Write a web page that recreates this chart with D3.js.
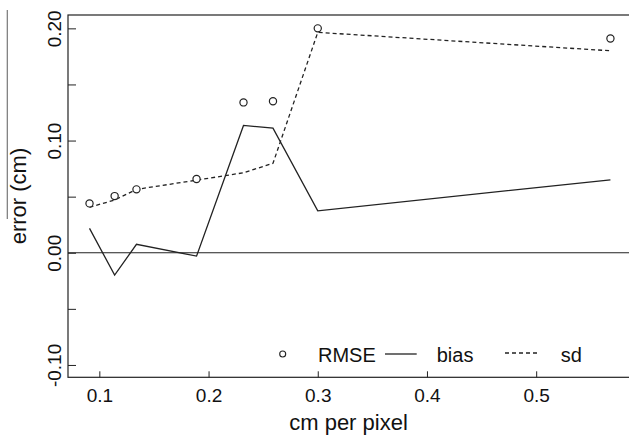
<!DOCTYPE html>
<html>
<head>
<meta charset="utf-8">
<script src="https://d3js.org/d3.v7.min.js"></script>
<style>
  body { margin: 0; background: #fff; }
  svg { display: block; }
  text { font-family: "Liberation Sans", Arial, sans-serif; fill: #111; }
</style>
</head>
<body>
<div class="chart"></div>
<script>
var svgWidth = 629;
var svgHeight = 436;

var margin = {
  top: 15,
  right: 0,
  bottom: 58.7,
  left: 68
};

var width = svgWidth - margin.left - margin.right;
var height = svgHeight - margin.top - margin.bottom;

// data
var cmPerPixel = [0.091, 0.114, 0.134, 0.189, 0.232, 0.259, 0.300, 0.568];
var rmse = [0.044, 0.0505, 0.0565, 0.0657, 0.134, 0.135, 0.200, 0.191];
var bias = [0.0217, -0.0199, 0.0075, -0.003, 0.1135, 0.111, 0.0374, 0.065];
var sd = [0.0405, 0.047, 0.0565, 0.0647, 0.0713, 0.0797, 0.1964, 0.180];

var xTicks = [0.1, 0.2, 0.3, 0.4, 0.5];
var yTicks = [-0.10, -0.05, 0.00, 0.05, 0.10, 0.15, 0.20];
var yLabels = [-0.10, 0.00, 0.10, 0.20];
var legendLabels = ["RMSE", "bias", "sd"];

var ink = "#222";

var svg = d3
  .select(".chart")
  .append("svg")
  .attr("width", svgWidth)
  .attr("height", svgHeight);

var chartGroup = svg.append("g")
  .attr("transform", `translate(${margin.left}, ${margin.top})`);

// scales
var x = d3.scaleLinear()
  .domain([0.0713, 0.585])
  .range([0, width]);

var y = d3.scaleLinear()
  .domain([-0.111, 0.2119])
  .range([height, 0]);

// frame (right side runs off the picture)
chartGroup.append("rect")
  .attr("x", 0)
  .attr("y", 0)
  .attr("width", width + 5)
  .attr("height", height)
  .attr("fill", "none")
  .attr("stroke", ink)
  .attr("stroke-width", 1.2);

// x axis, ticks pointing inward
var bottomAxis = d3.axisBottom(x)
  .tickValues(xTicks)
  .tickSizeInner(-6)
  .tickSizeOuter(0)
  .tickFormat(d => d.toFixed(1));

chartGroup.append("g")
  .attr("transform", `translate(0, ${height})`)
  .call(bottomAxis)
  .call(g => g.select(".domain").remove())
  .call(g => g.selectAll("line").attr("stroke", ink))
  .call(g => g.selectAll("text")
    .attr("y", 24.7)
    .attr("dy", null)
    .attr("font-size", 19)
    .attr("font-family", "Liberation Sans, Arial, sans-serif")
    .attr("fill", "#111"));

// y axis ticks every 0.05, labels every 0.1
var leftAxis = d3.axisLeft(y)
  .tickValues(yTicks)
  .tickSizeInner(-8)
  .tickSizeOuter(0)
  .tickFormat(d => yLabels.some(v => Math.abs(v - d) < 1e-9) ? d.toFixed(2) : "");

chartGroup.append("g")
  .call(leftAxis)
  .call(g => g.select(".domain").remove())
  .call(g => g.selectAll("line").attr("stroke", ink))
  .call(g => g.selectAll("text")
    .attr("transform", "rotate(-90)")
    .attr("x", 0)
    .attr("y", -7.3)
    .attr("dy", null)
    .attr("text-anchor", "middle")
    .attr("font-size", 19)
    .attr("font-family", "Liberation Sans, Arial, sans-serif")
    .attr("fill", "#111"));

// zero line
chartGroup.append("line")
  .attr("x1", 0)
  .attr("x2", width)
  .attr("y1", y(0))
  .attr("y2", y(0))
  .attr("stroke", ink)
  .attr("stroke-width", 1.2);

// bias (solid) and sd (dashed)
var lineFor = function(values) {
  return d3.line()
    .x((d, i) => x(cmPerPixel[i]))
    .y(d => y(d))(values);
};

chartGroup.append("path")
  .attr("d", lineFor(bias))
  .attr("fill", "none")
  .attr("stroke", ink)
  .attr("stroke-width", 1.3);

chartGroup.append("path")
  .attr("d", lineFor(sd))
  .attr("fill", "none")
  .attr("stroke", ink)
  .attr("stroke-width", 1.3)
  .attr("stroke-dasharray", "4,3");

// RMSE circles
chartGroup.selectAll("circle.rmse")
  .data(rmse)
  .enter()
  .append("circle")
  .attr("class", "rmse")
  .attr("cx", (d, i) => x(cmPerPixel[i]))
  .attr("cy", d => y(d))
  .attr("r", 3.6)
  .attr("fill", "#fff")
  .attr("stroke", ink)
  .attr("stroke-width", 1.2);

// legend inside the bottom of the plot
var legend = svg.append("g")
  .attr("transform", "translate(282.7, 354)");

legend.append("circle")
  .attr("cx", 0)
  .attr("cy", 0)
  .attr("r", 3)
  .attr("fill", "#fff")
  .attr("stroke", ink)
  .attr("stroke-width", 1.1);

legend.append("line")
  .attr("x1", 102.3)
  .attr("x2", 134)
  .attr("y1", 0)
  .attr("y2", 0)
  .attr("stroke", ink)
  .attr("stroke-width", 1.3);

legend.append("line")
  .attr("x1", 222.3)
  .attr("x2", 257.3)
  .attr("y1", -1)
  .attr("y2", -1)
  .attr("stroke", ink)
  .attr("stroke-width", 1.3)
  .attr("stroke-dasharray", "4,3");

var legendX = [35.3, 154, 278];
legend.selectAll("text")
  .data(legendLabels)
  .enter()
  .append("text")
  .attr("x", (d, i) => legendX[i])
  .attr("y", 8)
  .attr("font-size", 20)
  .text(d => d);

// axis titles
svg.append("text")
  .attr("x", margin.left + width / 2)
  .attr("y", 430)
  .attr("text-anchor", "middle")
  .attr("font-size", 22)
  .text("cm per pixel");

svg.append("text")
  .attr("transform", "rotate(-90)")
  .attr("x", -196)
  .attr("y", 26)
  .attr("text-anchor", "middle")
  .attr("font-size", 22)
  .text("error (cm)");

// stray rule above the y title, as in the scan
svg.append("line")
  .attr("x1", 7.3)
  .attr("x2", 7.3)
  .attr("y1", 10)
  .attr("y2", 219)
  .attr("stroke", "#777")
  .attr("stroke-width", 1.2);
</script>
</body>
</html>
